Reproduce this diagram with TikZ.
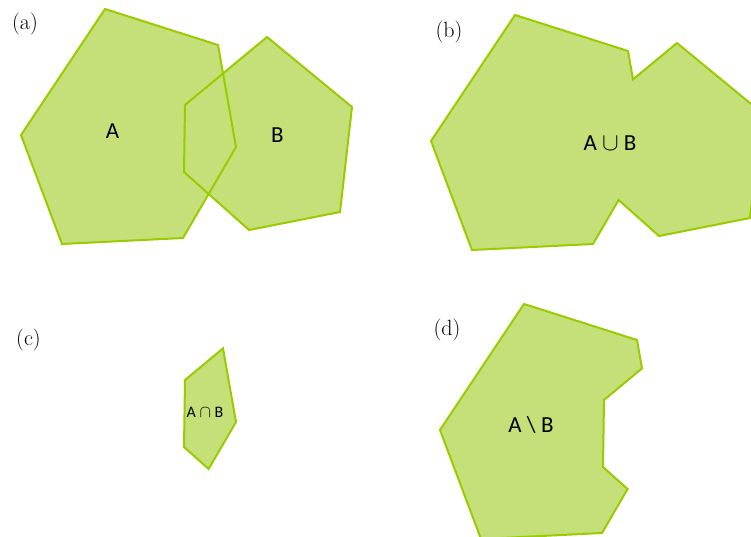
\documentclass[tikz,border=0pt]{standalone}
\usepackage{fontspec}
\newfontfamily\carl{Carlito}
\definecolor{setfill}{RGB}{197,224,120}
\definecolor{setline}{RGB}{153,204,0}
\begin{document}
\begin{tikzpicture}[x=1pt,y=-1pt,
  regionfill/.style={fill=setfill},
  regionline/.style={draw=setline,line width=2pt,line join=miter},
  region/.style={regionfill,regionline},
  setlabel/.style={font=\carl\fontsize{23}{27}\selectfont,inner sep=0pt},
  smalllabel/.style={font=\carl\fontsize{16}{19}\selectfont,inner sep=0pt},
  panellabel/.style={font=\fontsize{22}{26}\selectfont,inner sep=0pt}]
\useasboundingbox (0,0) rectangle (751,537);
% (a)
\fill[regionfill] (105,9) -- (218,45) -- (236,147) -- (183,238) -- (62,244) -- (21,135) -- cycle;
\fill[regionfill] (267,37) -- (352,107) -- (340,212) -- (249,230) -- (184,172) -- (185,105) -- cycle;
\draw[regionline] (105,9) -- (218,45) -- (236,147) -- (183,238) -- (62,244) -- (21,135) -- cycle;
\draw[regionline] (267,37) -- (352,107) -- (340,212) -- (249,230) -- (184,172) -- (185,105) -- cycle;
\node[panellabel] (la) at (25,24) {(a)};
\node[setlabel] (ta) at (112.5,131.5) {A};
\node[setlabel] (tb) at (277.5,135) {B};
% (b) union
\begin{scope}[shift={(410,6)}]
\draw[region] (105,9) -- (218,45) -- (223,73.4) -- (267,37) -- (352,107) -- (340,212) -- (249,230) -- (208.6,194) -- (183,238) -- (62,244) -- (21,135) -- cycle;
\end{scope}
\node[panellabel] (lb) at (449,32) {(b)};
\node[setlabel] (tu) at (610,143) {A $\cup$ B};
% (c) intersection
\begin{scope}[shift={(0,275)}]
\draw[region] (223,73.4) -- (236,147) -- (208.6,194) -- (184,172) -- (185,105) -- cycle;
\end{scope}
\node[panellabel] (lc) at (28.5,340) {(c)};
\node[smalllabel] (ti) at (205,412.5) {A $\cap$ B};
% (d) difference
\begin{scope}[shift={(419,295)}]
\draw[region] (105,9) -- (218,45) -- (223,73.4) -- (185,105) -- (184,172) -- (208.6,194) -- (183,238) -- (62,244) -- (21,135) -- cycle;
\end{scope}
\node[panellabel] (ld) at (447,330) {(d)};
\node[setlabel] (td) at (531,425) {A \textbackslash\ B};
\end{tikzpicture}
\end{document}
